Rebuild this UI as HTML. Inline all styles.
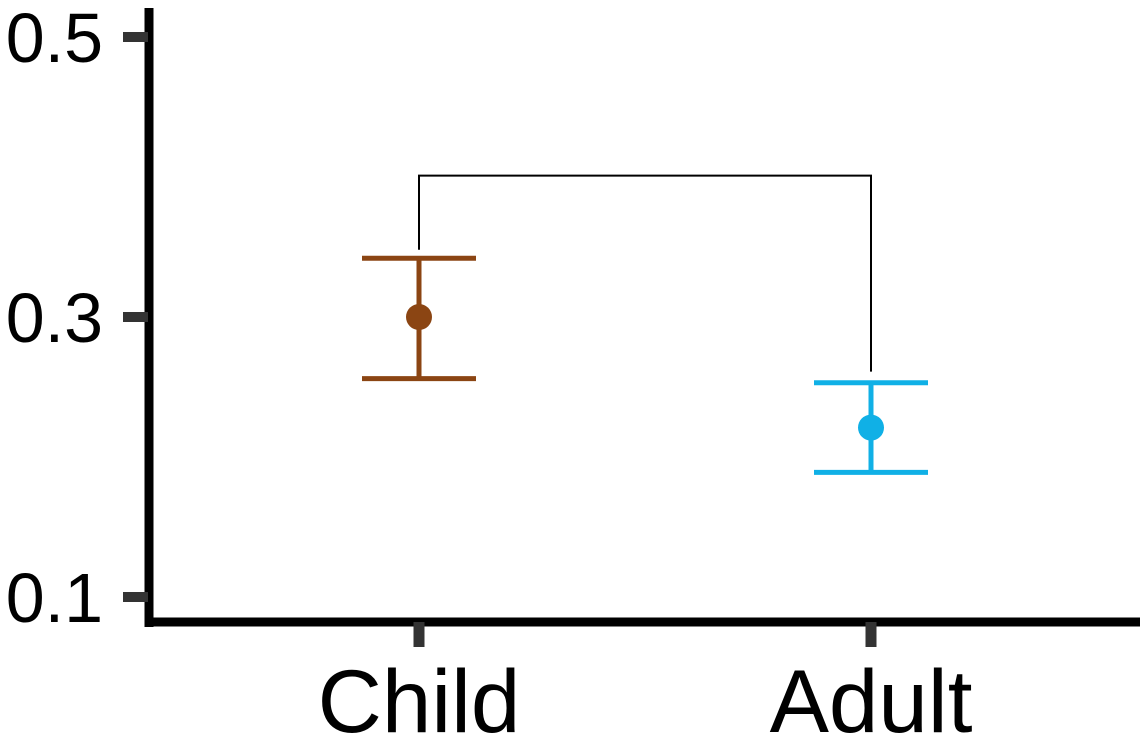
<!DOCTYPE html>
<html><head><meta charset="utf-8"><style>
html,body{margin:0;padding:0;background:#fff;width:1144px;height:745px;overflow:hidden}
svg text{font-family:"Liberation Sans",Arial,sans-serif}
</style></head><body>
<svg id="chart" width="1144" height="745" viewBox="0 0 1144 745" xmlns="http://www.w3.org/2000/svg"></svg>
<script>
const categories = ["Child", "Adult"];
const means = [0.300, 0.221];
const lowers = [0.256, 0.189];
const uppers = [0.342, 0.253];
const colors = ["#8B4513", "#10B0E6"];
const yTicks = [0.1, 0.3, 0.5];
const yTickLabels = ["0.1", "0.3", "0.5"];
const bracketTop = 0.401;
const bracketLegs = [0.348, 0.261];

const NS = "http://www.w3.org/2000/svg";
const svg = document.getElementById("chart");
function y(v){ return 597 + (0.1 - v) * 1400; }
function x(i){ return 419 + i * 452; }
function el(tag, attrs, parent){
  const e = document.createElementNS(NS, tag);
  for (const k in attrs) e.setAttribute(k, attrs[k]);
  (parent || svg).appendChild(e);
  return e;
}
let a = el("line", {x1:149, y1:8, x2:149, y2:627, stroke:"#000", "stroke-width":9});


a = el("line", {x1:145, y1:622, x2:1140, y2:622, stroke:"#000", "stroke-width":9});


yTicks.forEach((v, i) => {
  const t = el("line", {x1:123, y1:y(v), x2:148, y2:y(v), stroke:"#333", "stroke-width":10});
  
  
  const l = el("text", {x:103, y:y(v)+25, "text-anchor":"end", "font-size":70, fill:"#000"});
  l.textContent = yTickLabels[i];
  
  
});
categories.forEach((c, i) => {
  const t = el("line", {x1:x(i), y1:622, x2:x(i), y2:647, stroke:"#333", "stroke-width":11});
  
  
  const l = el("text", {x:x(i), y:732, "text-anchor":"middle", "font-size":89, fill:"#000"});
  l.textContent = c;
  
  
  const g = el("g", {stroke:colors[i], "stroke-width":5, fill:colors[i]});
  
  
  el("line", {x1:x(i), y1:y(lowers[i]), x2:x(i), y2:y(uppers[i])}, g);
  el("line", {x1:x(i)-57, y1:y(lowers[i]), x2:x(i)+57, y2:y(lowers[i])}, g);
  el("line", {x1:x(i)-57, y1:y(uppers[i]), x2:x(i)+57, y2:y(uppers[i])}, g);
  const p = el("circle", {cx:x(i), cy:y(means[i]), r:13, fill:colors[i], stroke:"none"});
  
  
});
const br = el("polyline", {points:`${x(0)},${y(bracketLegs[0])} ${x(0)},${y(bracketTop)} ${x(1)},${y(bracketTop)} ${x(1)},${y(bracketLegs[1])}`, fill:"none", stroke:"#000", "stroke-width":2});


</script>
</body></html>
